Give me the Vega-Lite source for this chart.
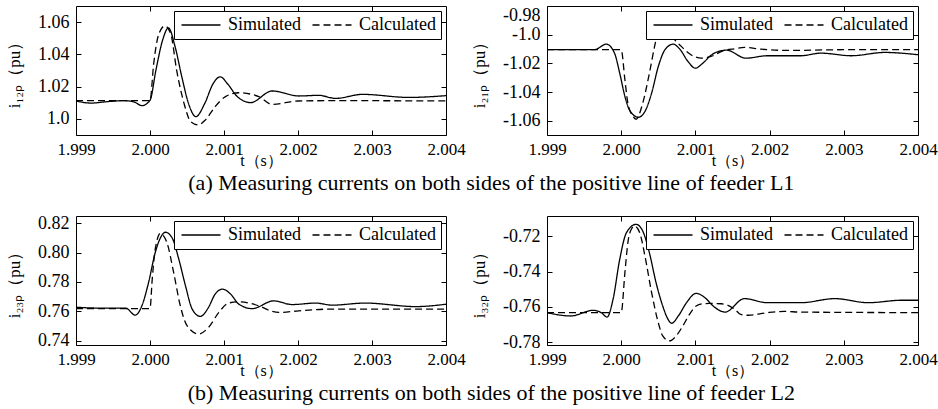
{
  "$schema": "https://vega.github.io/schema/vega-lite/v6.json",
  "padding": {"left": 5, "top": 5, "right": 1, "bottom": 2},
  "background": "white",
  "datasets": {
    "a1": [
      {"s": "Simulated", "t": 1.999, "v": 1.0111},
      {"s": "Simulated", "t": 1.9992, "v": 1.0098},
      {"s": "Simulated", "t": 1.99945, "v": 1.0108},
      {"s": "Simulated", "t": 1.99965, "v": 1.0113},
      {"s": "Simulated", "t": 1.99978, "v": 1.0106},
      {"s": "Simulated", "t": 1.99989, "v": 1.0082},
      {"s": "Simulated", "t": 2.0, "v": 1.0115},
      {"s": "Simulated", "t": 2.00008, "v": 1.0302},
      {"s": "Simulated", "t": 2.00017, "v": 1.0488},
      {"s": "Simulated", "t": 2.00025, "v": 1.0564},
      {"s": "Simulated", "t": 2.00034, "v": 1.0446},
      {"s": "Simulated", "t": 2.00043, "v": 1.0261},
      {"s": "Simulated", "t": 2.00052, "v": 1.0096},
      {"s": "Simulated", "t": 2.00062, "v": 1.0014},
      {"s": "Simulated", "t": 2.00074, "v": 1.0096},
      {"s": "Simulated", "t": 2.00085, "v": 1.0216},
      {"s": "Simulated", "t": 2.00095, "v": 1.0261},
      {"s": "Simulated", "t": 2.00105, "v": 1.0216},
      {"s": "Simulated", "t": 2.00118, "v": 1.0138},
      {"s": "Simulated", "t": 2.00136, "v": 1.0101},
      {"s": "Simulated", "t": 2.00165, "v": 1.0173},
      {"s": "Simulated", "t": 2.00201, "v": 1.0142},
      {"s": "Simulated", "t": 2.00228, "v": 1.0146},
      {"s": "Simulated", "t": 2.00251, "v": 1.0127},
      {"s": "Simulated", "t": 2.00287, "v": 1.0152},
      {"s": "Simulated", "t": 2.0035, "v": 1.0133},
      {"s": "Simulated", "t": 2.004, "v": 1.0144},
      {"s": "Calculated", "t": 1.999, "v": 1.0113},
      {"s": "Calculated", "t": 1.9995, "v": 1.0113},
      {"s": "Calculated", "t": 2.0, "v": 1.0113},
      {"s": "Calculated", "t": 2.00005, "v": 1.0343},
      {"s": "Calculated", "t": 2.00012, "v": 1.0528},
      {"s": "Calculated", "t": 2.0002, "v": 1.0576},
      {"s": "Calculated", "t": 2.00028, "v": 1.0528},
      {"s": "Calculated", "t": 2.00036, "v": 1.0302},
      {"s": "Calculated", "t": 2.00046, "v": 1.0096},
      {"s": "Calculated", "t": 2.00055, "v": 0.9983},
      {"s": "Calculated", "t": 2.00065, "v": 0.9963},
      {"s": "Calculated", "t": 2.00075, "v": 0.9994},
      {"s": "Calculated", "t": 2.00088, "v": 1.0076},
      {"s": "Calculated", "t": 2.00102, "v": 1.0138},
      {"s": "Calculated", "t": 2.0012, "v": 1.0162},
      {"s": "Calculated", "t": 2.00147, "v": 1.0138},
      {"s": "Calculated", "t": 2.00165, "v": 1.009},
      {"s": "Calculated", "t": 2.002, "v": 1.0111},
      {"s": "Calculated", "t": 2.0025, "v": 1.0113},
      {"s": "Calculated", "t": 2.004, "v": 1.0111}
    ],
    "a2": [
      {"s": "Simulated", "t": 1.999, "v": -1.0105},
      {"s": "Simulated", "t": 1.99964, "v": -1.0105},
      {"s": "Simulated", "t": 1.9998, "v": -1.0066},
      {"s": "Simulated", "t": 1.99991, "v": -1.0129},
      {"s": "Simulated", "t": 1.99998, "v": -1.0269},
      {"s": "Simulated", "t": 2.00005, "v": -1.0431},
      {"s": "Simulated", "t": 2.00011, "v": -1.0524},
      {"s": "Simulated", "t": 2.00023, "v": -1.0576},
      {"s": "Simulated", "t": 2.00032, "v": -1.0536},
      {"s": "Simulated", "t": 2.00041, "v": -1.0408},
      {"s": "Simulated", "t": 2.0005, "v": -1.0222},
      {"s": "Simulated", "t": 2.00059, "v": -1.0105},
      {"s": "Simulated", "t": 2.0007, "v": -1.0066},
      {"s": "Simulated", "t": 2.00079, "v": -1.0101},
      {"s": "Simulated", "t": 2.0009, "v": -1.0187},
      {"s": "Simulated", "t": 2.001, "v": -1.0234},
      {"s": "Simulated", "t": 2.0011, "v": -1.0199},
      {"s": "Simulated", "t": 2.00122, "v": -1.014},
      {"s": "Simulated", "t": 2.00135, "v": -1.0112},
      {"s": "Simulated", "t": 2.00142, "v": -1.0108},
      {"s": "Simulated", "t": 2.00168, "v": -1.0164},
      {"s": "Simulated", "t": 2.00197, "v": -1.0147},
      {"s": "Simulated", "t": 2.00242, "v": -1.0147},
      {"s": "Simulated", "t": 2.00269, "v": -1.0129},
      {"s": "Simulated", "t": 2.0031, "v": -1.0147},
      {"s": "Simulated", "t": 2.00355, "v": -1.0124},
      {"s": "Simulated", "t": 2.004, "v": -1.014},
      {"s": "Calculated", "t": 1.999, "v": -1.0105},
      {"s": "Calculated", "t": 1.9995, "v": -1.0105},
      {"s": "Calculated", "t": 2.0, "v": -1.0105},
      {"s": "Calculated", "t": 2.00005, "v": -1.0315},
      {"s": "Calculated", "t": 2.00009, "v": -1.0478},
      {"s": "Calculated", "t": 2.00016, "v": -1.0571},
      {"s": "Calculated", "t": 2.0002, "v": -1.059},
      {"s": "Calculated", "t": 2.00029, "v": -1.0478},
      {"s": "Calculated", "t": 2.00038, "v": -1.0269},
      {"s": "Calculated", "t": 2.00045, "v": -1.0082},
      {"s": "Calculated", "t": 2.00052, "v": -0.9942},
      {"s": "Calculated", "t": 2.00058, "v": -0.992},
      {"s": "Calculated", "t": 2.00064, "v": -0.994},
      {"s": "Calculated", "t": 2.00069, "v": -1.0007},
      {"s": "Calculated", "t": 2.00081, "v": -1.0082},
      {"s": "Calculated", "t": 2.00094, "v": -1.014},
      {"s": "Calculated", "t": 2.00108, "v": -1.0164},
      {"s": "Calculated", "t": 2.00121, "v": -1.0152},
      {"s": "Calculated", "t": 2.00139, "v": -1.011},
      {"s": "Calculated", "t": 2.00153, "v": -1.0098},
      {"s": "Calculated", "t": 2.00166, "v": -1.0089},
      {"s": "Calculated", "t": 2.00188, "v": -1.0101},
      {"s": "Calculated", "t": 2.00224, "v": -1.011},
      {"s": "Calculated", "t": 2.003, "v": -1.0105},
      {"s": "Calculated", "t": 2.004, "v": -1.0105}
    ],
    "b1": [
      {"s": "Simulated", "t": 1.999, "v": 0.7628},
      {"s": "Simulated", "t": 1.9993, "v": 0.7622},
      {"s": "Simulated", "t": 1.99967, "v": 0.7622},
      {"s": "Simulated", "t": 1.9998, "v": 0.7574},
      {"s": "Simulated", "t": 1.99989, "v": 0.7637},
      {"s": "Simulated", "t": 1.99998, "v": 0.7795},
      {"s": "Simulated", "t": 2.00007, "v": 0.7999},
      {"s": "Simulated", "t": 2.00014, "v": 0.81},
      {"s": "Simulated", "t": 2.00021, "v": 0.8139},
      {"s": "Simulated", "t": 2.0003, "v": 0.81},
      {"s": "Simulated", "t": 2.00039, "v": 0.7954},
      {"s": "Simulated", "t": 2.00048, "v": 0.7773},
      {"s": "Simulated", "t": 2.00057, "v": 0.7615},
      {"s": "Simulated", "t": 2.00068, "v": 0.7565},
      {"s": "Simulated", "t": 2.00079, "v": 0.7626},
      {"s": "Simulated", "t": 2.00088, "v": 0.7717},
      {"s": "Simulated", "t": 2.00098, "v": 0.7751},
      {"s": "Simulated", "t": 2.00109, "v": 0.7717},
      {"s": "Simulated", "t": 2.0012, "v": 0.7649},
      {"s": "Simulated", "t": 2.00138, "v": 0.7618},
      {"s": "Simulated", "t": 2.00167, "v": 0.7671},
      {"s": "Simulated", "t": 2.00192, "v": 0.7646},
      {"s": "Simulated", "t": 2.00224, "v": 0.7656},
      {"s": "Simulated", "t": 2.00246, "v": 0.7642},
      {"s": "Simulated", "t": 2.00291, "v": 0.7656},
      {"s": "Simulated", "t": 2.00359, "v": 0.7632},
      {"s": "Simulated", "t": 2.004, "v": 0.7648},
      {"s": "Calculated", "t": 1.999, "v": 0.7618},
      {"s": "Calculated", "t": 1.9995, "v": 0.7618},
      {"s": "Calculated", "t": 2.0, "v": 0.7618},
      {"s": "Calculated", "t": 2.00003, "v": 0.7818},
      {"s": "Calculated", "t": 2.00007, "v": 0.8022},
      {"s": "Calculated", "t": 2.00014, "v": 0.813},
      {"s": "Calculated", "t": 2.00023, "v": 0.8067},
      {"s": "Calculated", "t": 2.00032, "v": 0.7863},
      {"s": "Calculated", "t": 2.00041, "v": 0.7637},
      {"s": "Calculated", "t": 2.0005, "v": 0.7502},
      {"s": "Calculated", "t": 2.00066, "v": 0.7445},
      {"s": "Calculated", "t": 2.00079, "v": 0.749},
      {"s": "Calculated", "t": 2.00093, "v": 0.7592},
      {"s": "Calculated", "t": 2.00106, "v": 0.7656},
      {"s": "Calculated", "t": 2.0012, "v": 0.7664},
      {"s": "Calculated", "t": 2.00147, "v": 0.7637},
      {"s": "Calculated", "t": 2.00165, "v": 0.7599},
      {"s": "Calculated", "t": 2.00174, "v": 0.7592},
      {"s": "Calculated", "t": 2.00201, "v": 0.7603},
      {"s": "Calculated", "t": 2.00246, "v": 0.7615},
      {"s": "Calculated", "t": 2.004, "v": 0.7615}
    ],
    "b2": [
      {"s": "Simulated", "t": 1.999, "v": -0.7632},
      {"s": "Simulated", "t": 1.99932, "v": -0.7651},
      {"s": "Simulated", "t": 1.99962, "v": -0.7619},
      {"s": "Simulated", "t": 1.99973, "v": -0.7632},
      {"s": "Simulated", "t": 1.99981, "v": -0.7657},
      {"s": "Simulated", "t": 1.99989, "v": -0.7557},
      {"s": "Simulated", "t": 1.99998, "v": -0.7331},
      {"s": "Simulated", "t": 2.00007, "v": -0.7181},
      {"s": "Simulated", "t": 2.0002, "v": -0.7133},
      {"s": "Simulated", "t": 2.00029, "v": -0.7171},
      {"s": "Simulated", "t": 2.00038, "v": -0.7294},
      {"s": "Simulated", "t": 2.00047, "v": -0.7463},
      {"s": "Simulated", "t": 2.00056, "v": -0.7595},
      {"s": "Simulated", "t": 2.00062, "v": -0.7661},
      {"s": "Simulated", "t": 2.00068, "v": -0.7692},
      {"s": "Simulated", "t": 2.00077, "v": -0.7651},
      {"s": "Simulated", "t": 2.00088, "v": -0.7576},
      {"s": "Simulated", "t": 2.00101, "v": -0.7523},
      {"s": "Simulated", "t": 2.00113, "v": -0.7548},
      {"s": "Simulated", "t": 2.00124, "v": -0.7595},
      {"s": "Simulated", "t": 2.0014, "v": -0.7629},
      {"s": "Simulated", "t": 2.00166, "v": -0.7553},
      {"s": "Simulated", "t": 2.00197, "v": -0.7576},
      {"s": "Simulated", "t": 2.00242, "v": -0.7576},
      {"s": "Simulated", "t": 2.00288, "v": -0.7553},
      {"s": "Simulated", "t": 2.00333, "v": -0.7576},
      {"s": "Simulated", "t": 2.00378, "v": -0.7562},
      {"s": "Simulated", "t": 2.004, "v": -0.7562},
      {"s": "Calculated", "t": 1.999, "v": -0.7632},
      {"s": "Calculated", "t": 1.9995, "v": -0.7632},
      {"s": "Calculated", "t": 2.0, "v": -0.7632},
      {"s": "Calculated", "t": 2.00005, "v": -0.7406},
      {"s": "Calculated", "t": 2.00009, "v": -0.7237},
      {"s": "Calculated", "t": 2.00014, "v": -0.7158},
      {"s": "Calculated", "t": 2.00018, "v": -0.7143},
      {"s": "Calculated", "t": 2.00025, "v": -0.7181},
      {"s": "Calculated", "t": 2.00032, "v": -0.7312},
      {"s": "Calculated", "t": 2.00041, "v": -0.7519},
      {"s": "Calculated", "t": 2.0005, "v": -0.7689},
      {"s": "Calculated", "t": 2.00056, "v": -0.7764},
      {"s": "Calculated", "t": 2.00065, "v": -0.7792},
      {"s": "Calculated", "t": 2.00074, "v": -0.7764},
      {"s": "Calculated", "t": 2.00083, "v": -0.7708},
      {"s": "Calculated", "t": 2.00092, "v": -0.7642},
      {"s": "Calculated", "t": 2.00101, "v": -0.7595},
      {"s": "Calculated", "t": 2.0011, "v": -0.7582},
      {"s": "Calculated", "t": 2.00119, "v": -0.758},
      {"s": "Calculated", "t": 2.00135, "v": -0.7582},
      {"s": "Calculated", "t": 2.00153, "v": -0.7613},
      {"s": "Calculated", "t": 2.00161, "v": -0.7642},
      {"s": "Calculated", "t": 2.00171, "v": -0.7647},
      {"s": "Calculated", "t": 2.00197, "v": -0.7632},
      {"s": "Calculated", "t": 2.0022, "v": -0.7625},
      {"s": "Calculated", "t": 2.00242, "v": -0.7629},
      {"s": "Calculated", "t": 2.004, "v": -0.7632}
    ]
  },
  "spacing": 19,
  "resolve": {"scale": {"strokeDash": "independent"}, "legend": {"strokeDash": "independent"}},
  "vconcat": [
    {
      "spacing": 4,
      "resolve": {"scale": {"strokeDash": "independent"}, "legend": {"strokeDash": "independent"}},
      "title": {"text": "(a) Measuring currents on both sides of the positive line of feeder L1", "orient": "bottom", "anchor": "middle", "frame": "bounds", "offset": 4, "dx": 20},
      "hconcat": [
        {
          "width": 370, "height": 129,
          "data": {"name": "a1"},
          "resolve": {"axis": {"x": "independent", "y": "independent"}},
          "layer": [
            {
              "mark": {"type": "line", "interpolate": "monotone", "color": "black", "strokeWidth": 1.3},
              "encoding": {
                "x": {"field": "t", "type": "quantitative", "scale": {"domain": [1.999, 2.004], "nice": false, "zero": false}, "axis": {"values": [1.999, 2.0, 2.001, 2.002, 2.003, 2.004], "format": ".3f", "title": "t（s）"}},
                "y": {"field": "v", "type": "quantitative", "scale": {"domain": [0.99, 1.07], "nice": false, "zero": false}, "axis": {"values": [1.0, 1.02, 1.04, 1.06], "labelExpr": "datum.value == 1 ? '1.0' : format(datum.value, '.2f')", "title": "i₁₂ₚ（pu）"}},
                "strokeDash": {"field": "s", "type": "nominal", "scale": {"domain": ["Simulated", "Calculated"], "range": [[1, 0], [7, 4]]}}
              }
            },
            {
              "mark": {"type": "line", "opacity": 0},
              "encoding": {
                "x": {"field": "t", "type": "quantitative", "axis": {"orient": "top", "labels": false, "title": null, "values": [2.0, 2.001, 2.002, 2.003]}},
                "y": {"field": "v", "type": "quantitative", "axis": {"orient": "right", "labels": false, "title": null, "values": [1.0, 1.02, 1.04, 1.06]}},
                "detail": {"field": "s"}
              }
            }
          ]
        },
        {
          "width": 371, "height": 129,
          "data": {"name": "a2"},
          "resolve": {"axis": {"x": "independent", "y": "independent"}},
          "layer": [
            {
              "mark": {"type": "line", "interpolate": "monotone", "color": "black", "strokeWidth": 1.3},
              "encoding": {
                "x": {"field": "t", "type": "quantitative", "scale": {"domain": [1.999, 2.004], "nice": false, "zero": false}, "axis": {"values": [1.999, 2.0, 2.001, 2.002, 2.003, 2.004], "format": ".3f", "title": "t（s）"}},
                "y": {"field": "v", "type": "quantitative", "scale": {"domain": [-1.07, -0.98], "nice": false, "zero": false}, "axis": {"values": [-1.06, -1.04, -1.02, -1.0, -0.98], "labelFlush": true, "labelExpr": "datum.value == -1 ? '-1.0' : '-' + format(abs(datum.value), '.2f')", "title": "i₂₁ₚ（pu）"}},
                "strokeDash": {"field": "s", "type": "nominal", "scale": {"domain": ["Simulated", "Calculated"], "range": [[1, 0], [7, 4]]}}
              }
            },
            {
              "mark": {"type": "line", "opacity": 0},
              "encoding": {
                "x": {"field": "t", "type": "quantitative", "axis": {"orient": "top", "labels": false, "title": null, "values": [2.0, 2.001, 2.002, 2.003]}},
                "y": {"field": "v", "type": "quantitative", "axis": {"orient": "right", "labels": false, "title": null, "values": [-1.06, -1.04, -1.02, -1.0]}},
                "detail": {"field": "s"}
              }
            }
          ]
        }
      ]
    },
    {
      "spacing": 4,
      "resolve": {"scale": {"strokeDash": "independent"}, "legend": {"strokeDash": "independent"}},
      "title": {"text": "(b) Measuring currents on both sides of the positive line of feeder L2", "orient": "bottom", "anchor": "middle", "frame": "bounds", "offset": 4, "dx": 20},
      "hconcat": [
        {
          "width": 370, "height": 129,
          "data": {"name": "b1"},
          "resolve": {"axis": {"x": "independent", "y": "independent"}},
          "layer": [
            {
              "mark": {"type": "line", "interpolate": "monotone", "color": "black", "strokeWidth": 1.3},
              "encoding": {
                "x": {"field": "t", "type": "quantitative", "scale": {"domain": [1.999, 2.004], "nice": false, "zero": false}, "axis": {"values": [1.999, 2.0, 2.001, 2.002, 2.003, 2.004], "format": ".3f", "title": "t（s）"}},
                "y": {"field": "v", "type": "quantitative", "scale": {"domain": [0.737, 0.825], "nice": false, "zero": false}, "axis": {"values": [0.74, 0.76, 0.78, 0.8, 0.82], "format": ".2f", "title": "i₂₃ₚ（pu）"}},
                "strokeDash": {"field": "s", "type": "nominal", "scale": {"domain": ["Simulated", "Calculated"], "range": [[1, 0], [7, 4]]}}
              }
            },
            {
              "mark": {"type": "line", "opacity": 0},
              "encoding": {
                "x": {"field": "t", "type": "quantitative", "axis": {"orient": "top", "labels": false, "title": null, "values": [2.0, 2.001, 2.002, 2.003]}},
                "y": {"field": "v", "type": "quantitative", "axis": {"orient": "right", "labels": false, "title": null, "values": [0.74, 0.76, 0.78, 0.8, 0.82]}},
                "detail": {"field": "s"}
              }
            }
          ]
        },
        {
          "width": 371, "height": 129,
          "data": {"name": "b2"},
          "resolve": {"axis": {"x": "independent", "y": "independent"}},
          "layer": [
            {
              "mark": {"type": "line", "interpolate": "monotone", "color": "black", "strokeWidth": 1.3},
              "encoding": {
                "x": {"field": "t", "type": "quantitative", "scale": {"domain": [1.999, 2.004], "nice": false, "zero": false}, "axis": {"values": [1.999, 2.0, 2.001, 2.002, 2.003, 2.004], "format": ".3f", "title": "t（s）"}},
                "y": {"field": "v", "type": "quantitative", "scale": {"domain": [-0.7815, -0.7086], "nice": false, "zero": false}, "axis": {"values": [-0.78, -0.76, -0.74, -0.72], "labelExpr": "'-' + format(abs(datum.value), '.2f')", "title": "i₃₂ₚ（pu）"}},
                "strokeDash": {"field": "s", "type": "nominal", "scale": {"domain": ["Simulated", "Calculated"], "range": [[1, 0], [7, 4]]}}
              }
            },
            {
              "mark": {"type": "line", "opacity": 0},
              "encoding": {
                "x": {"field": "t", "type": "quantitative", "axis": {"orient": "top", "labels": false, "title": null, "values": [2.0, 2.001, 2.002, 2.003]}},
                "y": {"field": "v", "type": "quantitative", "axis": {"orient": "right", "labels": false, "title": null, "values": [-0.78, -0.76, -0.74, -0.72]}},
                "detail": {"field": "s"}
              }
            }
          ]
        }
      ]
    }
  ],
  "config": {
    "font": "Liberation Serif",
    "view": {"stroke": "black", "strokeWidth": 1},
    "axis": {"domain": false, "grid": false, "tickSize": -5, "tickColor": "black", "tickWidth": 1, "labelColor": "black", "titleColor": "black", "labelFont": "Liberation Serif", "titleFont": "Liberation Serif", "titleFontWeight": "normal"},
    "axisX": {"labelFontSize": 17, "labelFlush": false, "labelPadding": 11, "titleFontSize": 16, "titlePadding": -5},
    "axisY": {"labelFontSize": 18, "labelPadding": 12, "titleFontSize": 17, "titlePadding": 14},
    "legend": {"orient": "top-right", "direction": "horizontal", "title": null, "offset": 5, "padding": 5, "strokeColor": "black", "fillColor": "white", "symbolType": "M-1,0H5", "symbolSize": 169, "symbolStrokeColor": "black", "symbolFillColor": "transparent", "symbolStrokeWidth": 1.3, "labelFont": "Liberation Serif", "labelFontSize": 18, "labelColor": "black", "labelOffset": 31, "columnPadding": 8},
    "title": {"font": "Liberation Serif", "fontSize": 22, "fontWeight": "normal", "color": "black"}
  }
}
